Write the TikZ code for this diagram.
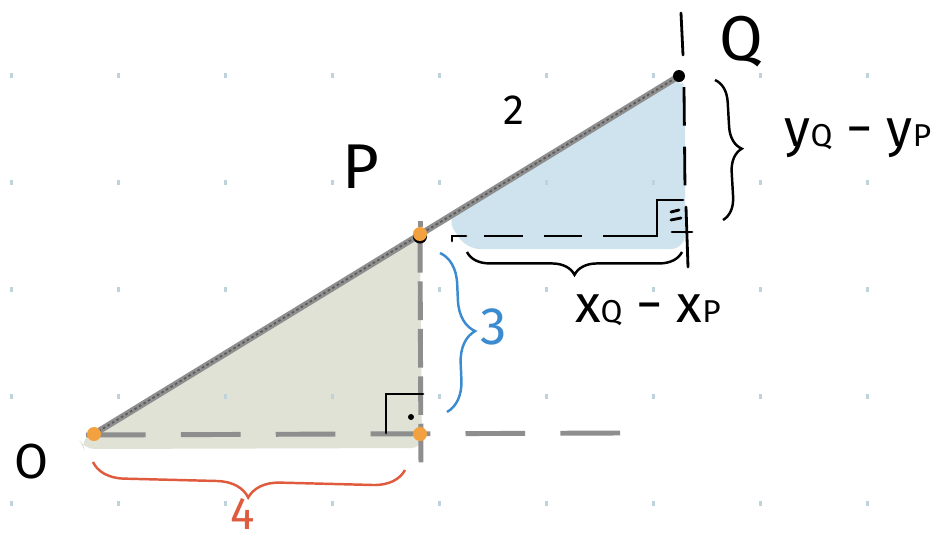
\documentclass[tikz,border=0pt]{standalone}
\usepackage{fontspec}
\setmainfont{Fira Sans}
\usetikzlibrary{decorations.pathreplacing}
\definecolor{dotc}{HTML}{BFD3DD}
\definecolor{greenfill}{HTML}{DFE2D4}
\definecolor{bluefill}{HTML}{CFE3EF}
\definecolor{orng}{HTML}{F2A13E}
\definecolor{bluec}{HTML}{3B8BD0}
\definecolor{redc}{HTML}{E05A3E}
\definecolor{hyp}{HTML}{8E8E8E}
\definecolor{hypdark}{HTML}{5A5A5A}
\begin{document}
\begin{tikzpicture}[x=0.02cm,y=-0.02cm,
  lbl/.style={inner sep=0pt, font=\fontsize{#1}{#1}\selectfont},
  griddot/.style={fill=dotc, draw=none},
  graydash/.style={hyp, line width=2.8pt, dash pattern=on 34pt off 20pt},
  blackline/.style={black, line width=1.6pt, line cap=round},
  blackdash/.style={black, line width=1.6pt, dash pattern=on 22pt off 12pt},
  bracestyle/.style={line width=1.4pt, decorate, decoration={brace, amplitude=#1}},
  orangedot/.style={fill=orng, draw=none}]
% canvas
\fill[white] (0,0) rectangle (948,542);
\useasboundingbox (0,0) rectangle (948,542);
% key points
\coordinate (O) at (94,434);
\coordinate (F) at (420,434);
\coordinate (P) at (420,234);
\coordinate (Q) at (679,76);
% fills
\fill[greenfill, rounded corners=6] (80,441) -- (P) -- (422,448) -- (84,449) -- cycle;
\fill[bluefill, rounded corners=8] (446,217) -- (Q) -- (685,88) -- (685,249) -- (466,249) -- cycle;
% grid dots
\foreach \gx in {11,118,225,332,439,546,653,760,867}
  \foreach \gy in {75,182,289,396,503}
    \fill[griddot] (\gx-1.5,\gy-2.5) rectangle (\gx+1.5,\gy+2.5);
% gray dashed axes
\draw[graydash] (86,435) -- (622,433);
\draw[hyp, line width=2.8pt, dash pattern=on 22pt off 5pt] (P) -- (421,470);
% hypotenuse
\draw[hyp, line width=3.6pt] (O) -- (Q);
\draw[hypdark, line width=1pt, dash pattern=on 1.5pt off 1.5pt] (O) -- (Q);
% black dashed legs of blue triangle
\draw[blackline] (452,241) -- (452,236) -- (466,236);
\draw[blackdash] (484,236) -- (640,236);
\draw[blackline] (622,236) -- (657,236) -- (657,200) -- (683,200);
\draw[blackline] (671,212) -- (679,210);
\draw[blackline] (671,220) -- (681,218);
\draw[blackline] (672,232) -- (692,232);
\draw[blackline] (681,13) -- (683,55);
\draw[blackdash] (684,87) -- (685,190);
\draw[blackline] (686,207) -- (688,267);
% right angle at foot
\draw[blackline] (386,433) -- (386,394) -- (423,394);
\fill[black] (411,417) circle (3);
% braces
\draw[redc, bracestyle=18pt] (405,470) -- (93,462);
\draw[bluec, bracestyle=18pt] (440,253) -- (447,412);
\draw[black, bracestyle=13pt] (715,80) -- (723,220);
\draw[black, bracestyle=13pt] (682,252) -- (467,252);
% points
\fill[orangedot] (O) circle (7);
\fill[orangedot] (F) circle (7);
\fill[hyp] (418,221) rectangle (423,227);
\fill[black] ([yshift=-0.05cm]P) circle (7);
\fill[orangedot] (P) circle (7);
\fill[black] (Q) circle (6);
% labels
\node[lbl=36] (lQ) at (741,42) {Q};
\node[lbl=24] (l2) at (514,110) {2};
\node[lbl=36] (lP) at (361,167) {P};
\node[lbl=28] (lO) at (32,462) {O};
\node[lbl=30, text=bluec] (l3) at (494,327) {3};
\node[lbl=26, text=redc, anchor=center] (l4) at (243,514) {4};
\node[lbl=30] (ly) at (858,138) {y{\fontsize{18}{18}\selectfont Q} − y{\fontsize{18}{18}\selectfont P}};
\node[lbl=30] (lx) at (648,310) {x{\fontsize{18}{18}\selectfont Q} − x{\fontsize{18}{18}\selectfont P}};
\end{tikzpicture}
\end{document}
